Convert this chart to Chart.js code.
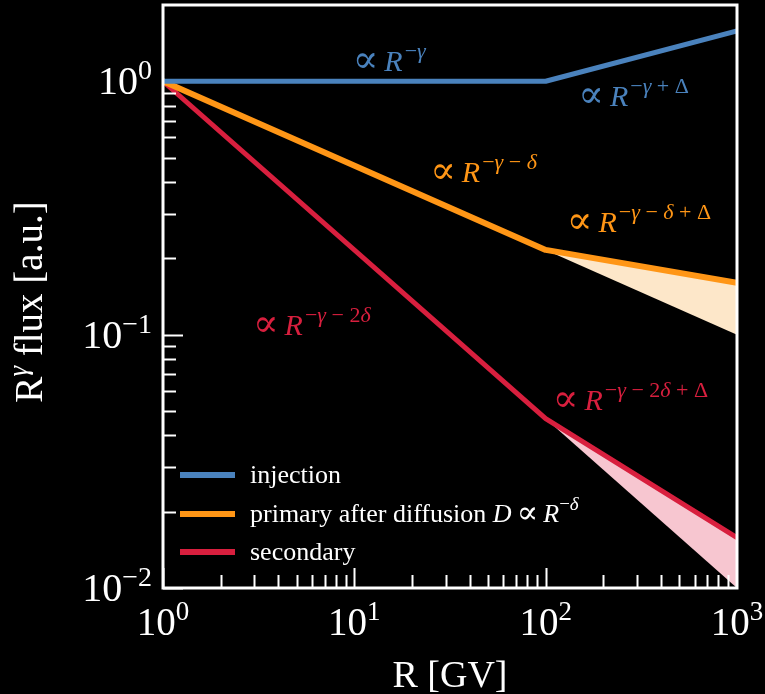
<!DOCTYPE html>
<html>
<head>
<meta charset="utf-8">
<script src="https://cdn.jsdelivr.net/npm/chart.js@4.4.0/dist/chart.umd.min.js"></script>
<style>
  html, body { margin: 0; padding: 0; background: #000; }
  #wrap { width: 765px; height: 694px; }
</style>
</head>
<body>
<div id="wrap"><canvas id="fluxChart" width="765" height="694"></canvas></div>
<script>
// values (R in GV, flux in a.u.)
const rigidity = [1, 100, 1000];
const injection = [1, 1, 1.58];
const primary = [1, 0.216, 0.16];
const secondary = [1, 0.0466, 0.0158];

// shaded bands above the break
const bandRigidity = [100, 1000];
const primaryBandTop = [0.216, 0.16];
const primaryBandLow = [0.216, 0.1];
const secondaryBandTop = [0.0466, 0.0158];
const secondaryBandLow = [0.0466, 0.01];

const xTicks = [1, 10, 100, 1000];
const xTickExp = ["0", "1", "2", "3"];
const yTicks = [0.01, 0.1, 1];
const yTickExp = ["−2", "−1", "0"];

const legendLabels = ["injection", "primary after diffusion ", "secondary"];

const BLUE = "#4a82bd";
const ORANGE = "#ff9616";
const RED = "#d81f3e";
const SERIF = '"Liberation Serif", "DejaVu Serif", serif';
const PROP = '"DejaVu Serif", serif';

// slope annotations, placed in data coordinates
const notes = [
    { x: 9.8, y: 1.10, sup: "−γ", color: BLUE },
    { x: 148, y: 0.796, sup: "−γ + Δ", color: BLUE },
    { x: 24.9, y: 0.399, sup: "−γ − δ", color: ORANGE },
    { x: 129, y: 0.253, sup: "−γ − δ + Δ", color: ORANGE },
    { x: 2.95, y: 0.1, sup: "−γ − 2δ", color: RED },
    { x: 109, y: 0.0505, sup: "−γ − 2δ + Δ", color: RED }
];

function pts(xs, ys) {
    return xs.map((x, i) => ({ x: x, y: ys[i] }));
}

// split a math string into italic / upright runs
function mathRuns(str, size, dy) {
    const runs = [];
    for (const ch of str) {
        const it = /[γδRD]/.test(ch);
        const font = (it ? "italic " : "") + size + "px " + SERIF;
        const last = runs[runs.length - 1];
        if (last && last.font === font && last.dy === dy) last.text += ch;
        else runs.push({ text: ch, font: font, dy: dy });
    }
    return runs;
}

function drawRuns(ctx, runs, x, y, align) {
    let total = 0;
    runs.forEach(r => {
        ctx.font = r.font;
        r.w = r.text === "" ? (r.gap || 0) : ctx.measureText(r.text).width + (r.gap || 0);
        total += r.w;
    });
    let cx = x;
    if (align === "center") cx = x - total / 2;
    if (align === "right") cx = x - total;
    ctx.textAlign = "left";
    ctx.textBaseline = "alphabetic";
    runs.forEach(r => {
        ctx.font = r.font;
        if (r.text) ctx.fillText(r.text, cx, y + r.dy);
        cx += r.w;
    });
    return total;
}

const decorPlugin = {
    id: "decor",
    afterDatasetsDraw(chart) {
        const ctx = chart.ctx;
        const area = chart.chartArea;
        const xs = chart.scales.x;
        const ys = chart.scales.y;
        ctx.save();

        // annotations
        notes.forEach(n => {
            ctx.fillStyle = n.color;
            const runs = [{ text: "∝", font: "38px " + PROP, dy: 1, gap: 6 },
                          { text: "R", font: "italic 30px " + SERIF, dy: 0, gap: 2 }]
                .concat(mathRuns(n.sup, 22, -13));
            drawRuns(ctx, runs, xs.getPixelForValue(n.x), ys.getPixelForValue(n.y), "left");
        });

        // inward ticks
        ctx.strokeStyle = "#fff";
        ctx.lineWidth = 2;
        ctx.beginPath();
        for (let d = 1; d < 1000; d *= 10) {
            for (let m = 1; m <= 9; m++) {
                const v = d * m;
                const px = Math.round(xs.getPixelForValue(v)) + 0.5;
                const len = m === 1 ? 20 : 13;
                ctx.moveTo(px, area.bottom);
                ctx.lineTo(px, area.bottom - len);
            }
        }
        for (let d = 0.01; d < 1; d *= 10) {
            for (let m = 1; m <= 9; m++) {
                const v = d * m;
                const py = Math.round(ys.getPixelForValue(v)) + 0.5;
                const len = m === 1 ? 20 : 13;
                ctx.moveTo(area.left, py);
                ctx.lineTo(area.left + len, py);
            }
        }
        ctx.stroke();

        // frame
        ctx.lineWidth = 3;
        ctx.strokeRect(area.left, area.top, area.right - area.left, area.bottom - area.top);

        // tick labels
        ctx.fillStyle = "#fff";
        xTicks.forEach((v, i) => {
            drawRuns(ctx, [{ text: "10", font: "39px " + SERIF, dy: 0 },
                           { text: xTickExp[i], font: "27px " + SERIF, dy: -15 }],
                xs.getPixelForValue(v), 635, "center");
        });
        yTicks.forEach((v, i) => {
            drawRuns(ctx, [{ text: "10", font: "40px " + SERIF, dy: 0 },
                           { text: yTickExp[i], font: "28px " + SERIF, dy: -15 }],
                152, ys.getPixelForValue(v) + 13, "right");
        });

        // axis titles
        drawRuns(ctx, [{ text: "R [GV]", font: "38px " + SERIF, dy: 0 }],
            (area.left + area.right) / 2, 687, "center");
        ctx.save();
        ctx.translate(42, 302);
        ctx.rotate(-Math.PI / 2);
        drawRuns(ctx, [{ text: "R", font: "39px " + SERIF, dy: 0 },
                       { text: "γ", font: "italic 27px " + SERIF, dy: -15 },
                       { text: " flux [a.u.]", font: "39px " + SERIF, dy: 0 }],
            0, 0, "center");
        ctx.restore();

        // legend
        const colors = [BLUE, ORANGE, RED];
        const rows = [475, 514, 552];
        legendLabels.forEach((label, i) => {
            ctx.strokeStyle = colors[i];
            ctx.lineWidth = 6;
            ctx.beginPath();
            ctx.moveTo(area.left + 17, rows[i]);
            ctx.lineTo(area.left + 72, rows[i]);
            ctx.stroke();
            ctx.fillStyle = "#fff";
            let runs = [{ text: label, font: "26px " + SERIF, dy: 0 }];
            if (i === 1) {
                runs = runs.concat(mathRuns("D", 26, 0))
                    .concat([{ text: "", font: "26px " + SERIF, dy: 0, gap: 5 },
                             { text: "∝", font: "32px " + PROP, dy: 1, gap: 5 }])
                    .concat(mathRuns("R", 26, 0))
                    .concat(mathRuns("−δ", 19, -12));
            }
            drawRuns(ctx, runs, area.left + 87, rows[i] + 8, "left");
        });

        ctx.restore();
    }
};

new Chart(document.getElementById("fluxChart"), {
    type: "line",
    data: {
        datasets: [
            { label: "injection", data: pts(rigidity, injection), borderColor: BLUE, borderWidth: 5, order: 0 },
            { label: "primary", data: pts(rigidity, primary), borderColor: ORANGE, borderWidth: 6, order: 1 },
            { label: "secondary", data: pts(rigidity, secondary), borderColor: RED, borderWidth: 5, order: 2 },
            { label: "primary band top", data: pts(bandRigidity, primaryBandTop), borderWidth: 0, borderColor: "transparent", order: 10 },
            { label: "primary band", data: pts(bandRigidity, primaryBandLow), borderWidth: 0, borderColor: "transparent",
              fill: 3, backgroundColor: "#fde7c9", order: 11 },
            { label: "secondary band top", data: pts(bandRigidity, secondaryBandTop), borderWidth: 0, borderColor: "transparent", order: 12 },
            { label: "secondary band", data: pts(bandRigidity, secondaryBandLow), borderWidth: 0, borderColor: "transparent",
              fill: 5, backgroundColor: "#f7c6d0", order: 13 }
        ]
    },
    options: {
        responsive: false,
        animation: false,
        devicePixelRatio: 1,
        layout: { padding: { left: 163, right: 28, top: 5, bottom: 106 } },
        elements: { point: { radius: 0 }, line: { tension: 0, borderJoinStyle: "round" } },
        plugins: { legend: { display: false }, tooltip: { enabled: false } },
        scales: {
            x: { type: "logarithmic", min: 1, max: 1000, display: false },
            y: { type: "logarithmic", min: 0.01, max: 2.0, display: false }
        }
    },
    plugins: [decorPlugin]
});
</script>
</body>
</html>
